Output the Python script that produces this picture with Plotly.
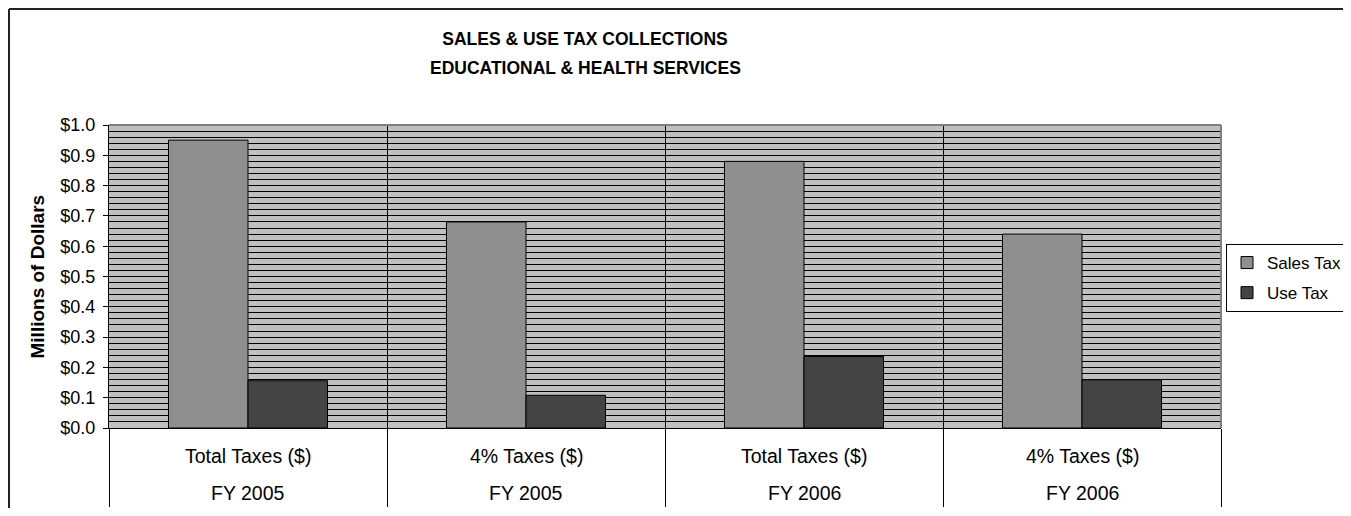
import plotly.graph_objects as go

# ---- data ----
measures = ["Total Taxes ($)", "4% Taxes ($)", "Total Taxes ($)", "4% Taxes ($)"]
years = ["FY 2005", "FY 2005", "FY 2006", "FY 2006"]
sales_tax = [0.95, 0.68, 0.88, 0.64]
use_tax = [0.156, 0.108, 0.236, 0.159]
y_tick_vals = [0.0, 0.1, 0.2, 0.3, 0.4, 0.5, 0.6, 0.7, 0.8, 0.9, 1.0]
y_tick_text = ["$0.0", "$0.1", "$0.2", "$0.3", "$0.4", "$0.5", "$0.6", "$0.7", "$0.8", "$0.9", "$1.0"]
title_lines = ["SALES & USE TAX COLLECTIONS", "EDUCATIONAL & HEALTH SERVICES"]
y_title = "Millions of Dollars"

categories = [f"{m} | {y}" for m, y in zip(measures, years)]

# page has an 8px body margin; figure sized to avoid scrollbars
OFF = 8
W, H = 1343, 500
ML, MT = 101, 117
PW, PH = 1112, 303
MR = W - ML - PW
MB = H - MT - PH


def px_x(sx):
    """screen x -> paper x"""
    return (sx - OFF - ML) / PW


def px_y(sy):
    """screen y -> paper y"""
    return (MT + PH - (sy - OFF)) / PH


FONT = "Liberation Sans, Arial, sans-serif"

fig = go.Figure()
fig.add_bar(x=categories, y=sales_tax, name="Sales Tax", legendgroup="a",
            marker=dict(color="#8f8f8f", line=dict(color="black", width=1)))
fig.add_bar(x=categories, y=use_tax, name="Use Tax", legendgroup="b",
            marker=dict(color="#444444", line=dict(color="black", width=1)))

annotations = []
for c, m, y in zip(categories, measures, years):
    annotations.append(dict(x=c, xref="x", y=px_y(456), yref="paper", text=m,
                            showarrow=False, xanchor="center", yanchor="middle",
                            font=dict(size=19.5, color="black", family=FONT)))
    annotations.append(dict(x=c, xref="x", y=px_y(493.5), yref="paper", text=y,
                            showarrow=False, xanchor="center", yanchor="middle",
                            font=dict(size=19.5, color="black", family=FONT)))
annotations.append(dict(x=px_x(37), xref="paper", y=0.5, yref="paper", text=y_title,
                        textangle=-90, showarrow=False, xanchor="center", yanchor="middle",
                        font=dict(size=19, color="black", family=FONT, weight="bold")))
annotations.append(dict(x=px_x(585), xref="paper", y=px_y(68.5), yref="paper",
                        text=title_lines[1], showarrow=False, xanchor="center",
                        yanchor="middle",
                        font=dict(size=17.5, color="black", family=FONT, weight="bold")))

shapes = [
    # plot area top / right border (gray)
    dict(type="line", xref="paper", yref="paper", x0=0, x1=1, y0=1, y1=1,
         line=dict(color="#808080", width=2), layer="above"),
    dict(type="line", xref="paper", yref="paper", x0=1, x1=1, y0=0, y1=1,
         line=dict(color="#808080", width=2), layer="above"),
    # outer chart frame (top & left visible)
    dict(type="line", xref="paper", yref="paper", x0=px_x(9), x1=1.4, y0=px_y(9), y1=px_y(9),
         line=dict(color="#222222", width=2)),
    dict(type="line", xref="paper", yref="paper", x0=px_x(9), x1=px_x(9), y0=px_y(9), y1=-0.6,
         line=dict(color="#222222", width=2)),
]

fig.update_layout(
    width=W, height=H,
    margin=dict(l=ML, r=MR, t=MT, b=MB, autoexpand=False),
    paper_bgcolor="white",
    plot_bgcolor="#c0c0c0",
    font=dict(family=FONT, size=18, color="black"),
    barmode="group", bargap=0.428, bargroupgap=0,
    title=dict(text=title_lines[0], xref="container", x=(585 - OFF) / W, xanchor="center",
               yref="container", y=1 - (39 - OFF) / H, yanchor="middle",
               font=dict(family=FONT, size=17.5, color="black", weight="bold")),
    xaxis=dict(type="category", tickson="boundaries", ticks="outside", ticklen=78,
               tickcolor="black", tickwidth=1, showticklabels=False,
               showgrid=True, gridcolor="black", gridwidth=1,
               showline=True, linecolor="black", linewidth=1, fixedrange=True),
    yaxis=dict(range=[0, 1], tickmode="array", tickvals=y_tick_vals, ticktext=y_tick_text,
               ticks="outside", ticklen=5, tickcolor="black", tickwidth=1,
               ticklabelstandoff=4,
               tickfont=dict(size=18, color="black", family=FONT),
               showgrid=True, gridcolor="black", gridwidth=1,
               minor=dict(tickmode="linear", tick0=0, dtick=0.02, showgrid=True,
                          gridcolor="black", gridwidth=1, ticks=""),
               showline=True, linecolor="black", linewidth=1, zeroline=False, fixedrange=True),
    legend=dict(x=px_x(1226), y=px_y(244), xanchor="left", yanchor="top",
                xref="paper", yref="paper",
                bgcolor="white", bordercolor="black", borderwidth=1,
                font=dict(size=17, color="black", family=FONT),
                traceorder="grouped", tracegroupgap=5),
    annotations=annotations,
    shapes=shapes,
)

fig.write_html("out.html")
